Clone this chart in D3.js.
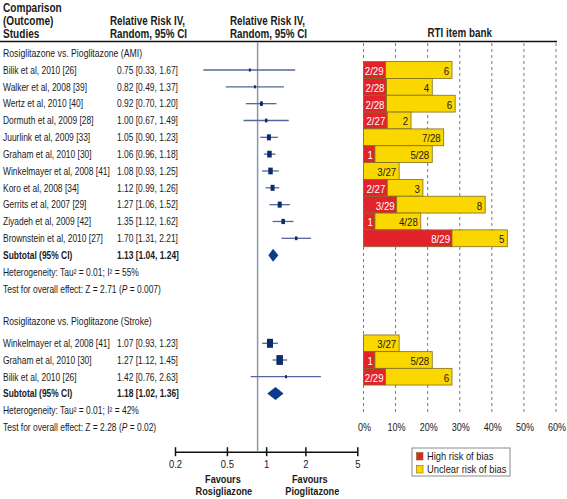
<!DOCTYPE html>
<html>
<head>
<meta charset="utf-8">
<script src="https://cdn.jsdelivr.net/npm/d3@7"></script>
<style>
  html, body { margin: 0; padding: 0; background: #fff; }
  svg { display: block; font-family: "Liberation Sans", Arial, sans-serif; }
</style>
</head>
<body>
<svg id="chart" width="567" height="499"></svg>
<script>
// ---------------- DATA ----------------
const amiStudies = ["Bilik et al, 2010 [26]", "Walker et al, 2008 [39]", "Wertz et al, 2010 [40]", "Dormuth et al, 2009 [28]",
  "Juurlink et al, 2009 [33]", "Graham et al, 2010 [30]", "Winkelmayer et al, 2008 [41]", "Koro et al, 2008 [34]",
  "Gerrits et al, 2007 [29]", "Ziyadeh et al, 2009 [42]", "Brownstein et al, 2010 [27]"];
const amiRR = [0.75, 0.82, 0.92, 1.00, 1.05, 1.06, 1.08, 1.12, 1.27, 1.35, 1.70];
const amiLo = [0.33, 0.49, 0.70, 0.67, 0.90, 0.96, 0.93, 0.99, 1.06, 1.12, 1.31];
const amiHi = [1.67, 1.37, 1.20, 1.49, 1.23, 1.18, 1.25, 1.26, 1.52, 1.62, 2.21];
const amiWeight = [3.1, 3.1, 6.9, 4.8, 12.3, 15.5, 15.5, 12.3, 12.3, 9.4, 4.8];
const amiSubtotal = { rr: 1.13, lo: 1.04, hi: 1.24 };
const amiHetero = "Heterogeneity: Tau² = 0.01; I² = 55%";
const amiTest = "Test for overall effect: Z = 2.71 (",
      amiTestP = " = 0.007)";

const amiHigh = [2, 2, 2, 2, 0, 1, 0, 2, 3, 1, 8];
const amiUnclear = [6, 4, 6, 2, 7, 5, 3, 3, 8, 4, 5];
const amiTotal = [29, 28, 28, 27, 28, 28, 27, 27, 29, 28, 29];
const amiHighLabels = ["2/29", "2/28", "2/28", "2/27", "", "1", "", "2/27", "3/29", "1", "8/29"];
const amiUnclearLabels = ["6", "4", "6", "2", "7/28", "5/28", "3/27", "3", "8", "4/28", "5"];

const strokeStudies = ["Winkelmayer et al, 2008 [41]", "Graham et al, 2010 [30]", "Bilik et al, 2010 [26]"];
const strokeRR = [1.07, 1.27, 1.42];
const strokeLo = [0.93, 1.12, 0.76];
const strokeHi = [1.23, 1.45, 2.63];
const strokeWeight = [43.8, 51.4, 4.9];
const strokeSubtotal = { rr: 1.18, lo: 1.02, hi: 1.36 };
const strokeHetero = "Heterogeneity: Tau² = 0.01; I² = 42%";
const strokeTest = "Test for overall effect: Z = 2.28 (",
      strokeTestP = " = 0.02)";

const strokeHigh = [0, 1, 2];
const strokeUnclear = [3, 5, 6];
const strokeTotal = [27, 28, 29];
const strokeHighLabels = ["", "1", "2/29"];
const strokeUnclearLabels = ["3/27", "5/28", "6"];

const forestTicks = [0.2, 0.5, 1, 2, 5];
const forestTickLabels = ["0.2", "0.5", "1", "2", "5"];
const rtiTicks = [0, 0.1, 0.2, 0.3, 0.4, 0.5, 0.6];
const rtiTickLabels = ["0%", "10%", "20%", "30%", "40%", "50%", "60%"];
const legendLabels = ["High risk of bias", "Unclear risk of bias"];
const refLineValue = 0.86;

// ---------------- STYLE ----------------
const C = {
  text: "#1a1a1a", ci: "#55679a", sq: "#0c2b6b", diamond: "#0d3a8c", ref: "#8d95a6",
  red: "#e2232b", yellow: "#fbd700", barStroke: "#7f6d22", grid: "#7a7a7a"
};
const SX = 0.82; // horizontal condensation (narrow face)

const svg = d3.select("#chart");

// scales
const x = d3.scaleLog().domain([0.2, 5]).range([175, 357.3]);
const xr = d3.scaleLinear().domain([0, 0.6]).range([363.5, 556]);
const yA = d3.scaleLinear().domain([0, 10]).range([70, 238.3]);
const yS = d3.scaleLinear().domain([0, 2]).range([343.3, 376.7]);
const wA = d3.scaleSqrt().domain([0, 100]).range([0, 11.4]);
const wS = d3.scaleSqrt().domain([0, 100]).range([0, 9.1]);

function txt(x0, y0, s, opt = {}, parent = svg) {
  return parent.append("text")
    .attr("transform", `translate(${x0},${y0}) scale(${SX},1)`)
    .attr("dominant-baseline", "central")
    .attr("fill", opt.fill || C.text)
    .attr("font-size", opt.size || 10.3)
    .attr("font-weight", opt.bold ? "bold" : "normal")
    .attr("text-anchor", opt.anchor || "start")
    .text(s);
}

// ---------- header ----------
txt(3, 8, "Comparison", { size: 12.3, bold: true });
txt(3, 21, "(Outcome)", { size: 12.3, bold: true });
txt(3, 34, "Studies", { size: 12.3, bold: true });
txt(110, 21, "Relative Risk IV,", { size: 12, bold: true });
txt(110, 34, "Random, 95% CI", { size: 12, bold: true });
txt(230, 21, "Relative Risk IV,", { size: 12, bold: true });
txt(230, 34, "Random, 95% CI", { size: 12, bold: true });
txt(xr(0.3), 32.5, "RTI item bank", { size: 12, bold: true, anchor: "middle" });

svg.append("line").attr("x1", 0).attr("x2", xr(0.6) + 1).attr("y1", 41.5).attr("y2", 41.5)
  .attr("stroke", "#111").attr("stroke-width", 1.5);

// ---------- RTI gridlines ----------
svg.append("g").selectAll("line").data(rtiTicks).join("line")
  .attr("x1", d => xr(d)).attr("x2", d => xr(d))
  .attr("y1", 43).attr("y2", 415)
  .attr("stroke", C.grid).attr("stroke-width", 1).attr("stroke-dasharray", "3,3");
rtiTicks.forEach((d, i) => txt(xr(d) + 1, 427.5, rtiTickLabels[i], { size: 11, anchor: "middle" }));

// ---------- reference line ----------
svg.append("line").attr("x1", x(refLineValue)).attr("x2", x(refLineValue))
  .attr("y1", 42).attr("y2", 451).attr("stroke", C.ref).attr("stroke-width", 1.5);

// ---------- groups ----------
function group(cfg) {
  const { y, w, studies, rr, lo, hi, weight, sub, hetero, test, testP, high, unclear, total, hl, ul, title, titleY } = cfg;
  txt(3, titleY, title, { size: 10.6 });
  studies.forEach((s, i) => {
    txt(3, y(i), s);
    txt(117, y(i), `${rr[i].toFixed(2)} [${lo[i].toFixed(2)}, ${hi[i].toFixed(2)}]`);
  });
  const n = studies.length;
  txt(3, y(n), "Subtotal (95% CI)", { bold: true });
  txt(117, y(n), `${sub.rr.toFixed(2)} [${sub.lo.toFixed(2)}, ${sub.hi.toFixed(2)}]`, { bold: true });
  txt(3, y(n + 1), hetero, { size: 10.3 });
  const t = txt(3, y(n + 2), test, { size: 10.3 });
  t.append("tspan").attr("font-style", "italic").text("P");
  t.append("tspan").text(testP);

  // CI lines
  const g = svg.append("g");
  g.selectAll("line.ci").data(studies).join("line").attr("class", "ci")
    .attr("x1", (d, i) => x(lo[i])).attr("x2", (d, i) => x(hi[i]))
    .attr("y1", (d, i) => y(i)).attr("y2", (d, i) => y(i))
    .attr("stroke", C.ci).attr("stroke-width", 1.3);
  g.selectAll("rect.sq").data(studies).join("rect").attr("class", "sq")
    .attr("x", (d, i) => x(rr[i]) - w(weight[i]) / 2)
    .attr("y", (d, i) => y(i) - w(weight[i]) * 0.75)
    .attr("width", (d, i) => w(weight[i]))
    .attr("height", (d, i) => w(weight[i]) * 1.5)
    .attr("fill", C.sq);
  // diamond
  const yd = y(n), hd = 6.5;
  g.append("path")
    .attr("d", `M${x(sub.lo)},${yd}L${x(sub.rr)},${yd - hd}L${x(sub.hi)},${yd}L${x(sub.rr)},${yd + hd}Z`)
    .attr("fill", C.diamond);

  // RTI bars
  const b = svg.append("g");
  const bh = y(1) - y(0);
  studies.forEach((s, i) => {
    const x0 = xr(0), xh = xr(high[i] / total[i]), xu = xr((high[i] + unclear[i]) / total[i]);
    const top = y(i) - bh / 2;
    if (high[i] > 0) {
      b.append("rect").attr("x", x0).attr("y", top).attr("width", xh - x0).attr("height", bh)
        .attr("fill", C.red).attr("stroke", C.barStroke).attr("stroke-width", 0.8);
    }
    b.append("rect").attr("x", xh).attr("y", top).attr("width", xu - xh).attr("height", bh)
      .attr("fill", C.yellow).attr("stroke", C.barStroke).attr("stroke-width", 0.8);
    if (hl[i]) txt(xh - 2, y(i) + 0.5, hl[i], { size: 11.8, anchor: "end", fill: "#fff" }, b);
    txt(xu - 3, y(i) + 0.5, ul[i], { size: 11.8, anchor: "end" }, b);
  });
}

group({ y: yA, w: wA, studies: amiStudies, rr: amiRR, lo: amiLo, hi: amiHi, weight: amiWeight, sub: amiSubtotal,
  hetero: amiHetero, test: amiTest, testP: amiTestP, high: amiHigh, unclear: amiUnclear, total: amiTotal,
  hl: amiHighLabels, ul: amiUnclearLabels, title: "Rosiglitazone vs. Pioglitazone (AMI)", titleY: yA(-1) });
group({ y: yS, w: wS, studies: strokeStudies, rr: strokeRR, lo: strokeLo, hi: strokeHi, weight: strokeWeight, sub: strokeSubtotal,
  hetero: strokeHetero, test: strokeTest, testP: strokeTestP, high: strokeHigh, unclear: strokeUnclear, total: strokeTotal,
  hl: strokeHighLabels, ul: strokeUnclearLabels, title: "Rosiglitazone vs. Pioglitazone (Stroke)", titleY: yS(-1.33) });

// ---------- forest axis ----------
const axis = d3.axisBottom(x).tickValues(forestTicks).tickSizeOuter(0).tickSizeInner(4)
  .tickFormat((d, i) => forestTickLabels[i]);
const ag = svg.append("g").attr("transform", "translate(0,451.7)").call(axis);
ag.select(".domain").attr("stroke", "#111").attr("stroke-width", 1.5);
ag.selectAll(".tick line").attr("y1", -4.5).attr("y2", 4.5).attr("stroke", "#111").attr("stroke-width", 1.5);
ag.selectAll(".tick text").attr("y", 0).attr("dy", null)
  .attr("transform", `translate(0,11.8) scale(${SX},1)`)
  .attr("dominant-baseline", "central")
  .attr("font-size", 11.5).attr("fill", C.text).attr("font-family", null);

txt(x(0.5) - 4, 479.3, "Favours", { size: 11.2, bold: true, anchor: "middle" });
txt(x(0.5) - 3, 491, "Rosigliazone", { size: 11.2, bold: true, anchor: "middle" });
txt(x(2.2) - 1, 479.3, "Favours", { size: 11.2, bold: true, anchor: "middle" });
txt(x(2.2) + 1.5, 491, "Pioglitazone", { size: 11.2, bold: true, anchor: "middle" });

// ---------- legend ----------
const lg = svg.append("g").attr("transform", "translate(412,448)");
lg.append("rect").attr("width", 98).attr("height", 28).attr("fill", "#fff").attr("stroke", "#8a8a8a").attr("stroke-width", 1);
[C.red, C.yellow].forEach((c, i) => {
  lg.append("rect").attr("x", 4.5).attr("y", 4.5 + i * 13).attr("width", 6.5).attr("height", 7.5)
    .attr("fill", c).attr("stroke", C.barStroke).attr("stroke-width", 0.6);
  txt(15, 8.5 + i * 13, legendLabels[i], { size: 11.4 }, lg);
});
</script>
</body>
</html>
